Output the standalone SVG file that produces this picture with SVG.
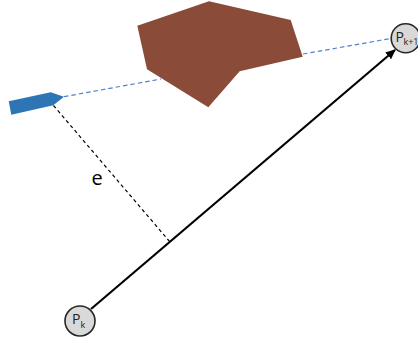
<svg xmlns="http://www.w3.org/2000/svg" width="418" height="341" viewBox="0 0 418 341">
<style>
.n{fill:#d9d9d9;stroke:#262626;stroke-width:1.6}
.t{font-family:"Open Sans","Liberation Sans",sans-serif;fill:#222}
.b{font-size:14px}.s{font-size:9px}
</style>
<defs><marker id="a" markerUnits="userSpaceOnUse" markerWidth="12" markerHeight="12" refX="9" refY="5" orient="auto"><path d="M0 0.500L10 5L0 9.500z" fill="#000"/></marker></defs>
<g id="obstacle"><polygon points="137.3,25.7 209,1.3 290.7,20 302.7,56.7 239.7,71.3 208.3,107.3 147,69.3" fill="#8a4b38"/></g>
<g id="connectors">
<line x1="64" y1="96.7" x2="161" y2="79" stroke="#4f81d0" stroke-width="1.2" stroke-dasharray="4.500 3"/>
<line x1="303" y1="54" x2="391" y2="38.5" stroke="#4f81d0" stroke-width="1.2" stroke-dasharray="4.500 3"/>
<line x1="53.5" y1="105.5" x2="170" y2="242" stroke="#000" stroke-width="1.2" stroke-dasharray="3.500 3"/>
<line x1="91" y1="309" x2="395" y2="50" stroke="#000" stroke-width="2.200" marker-end="url(#a)"/>
</g>
<g id="boat"><polygon points="8.7,101.3 50.7,92.3 64,96.7 53.3,105.3 11.3,114.7" fill="#2e75b6"/></g>
<g id="pk"><circle class="n" cx="80" cy="321" r="15"/><text class="t b" x="72" y="324">P</text><text class="t s" x="80.500" y="327.500">k</text></g>
<g id="pk1"><circle class="n" cx="405.700" cy="38.300" r="14.500"/><text class="t b" x="395.500" y="41.500">P</text><text class="t s" x="403.500" y="45">k+1</text></g>
<g id="label-e"><text x="91.500" y="185" font-family="Open Sans,Liberation Sans,sans-serif" font-size="20" fill="#000">e</text></g>
</svg>
